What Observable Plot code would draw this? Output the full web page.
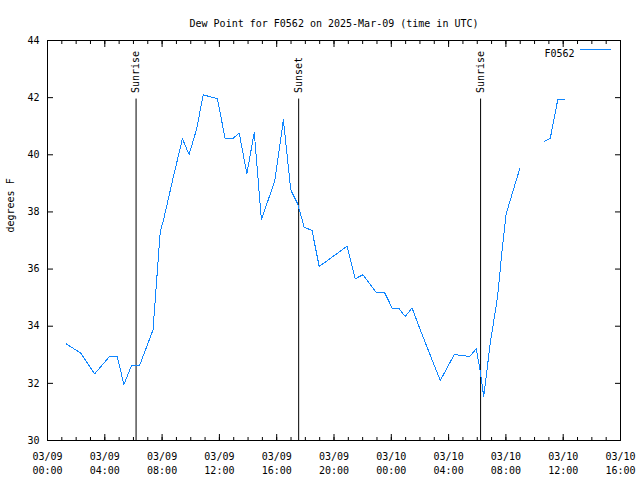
<!DOCTYPE html>
<html><head><meta charset="utf-8">
<script src="https://cdn.jsdelivr.net/npm/d3@7"></script>
<script src="https://cdn.jsdelivr.net/npm/@observablehq/plot@0.6"></script>
<style>body{margin:0;background:#fff}</style>
</head><body><div id="chart"></div>
<script>
const title = "Dew Point for F0562 on 2025-Mar-09 (time in UTC)";
const yLabel = "degrees F";
const seriesName = "F0562";

const times = [
  "2025-03-09T01:19Z","2025-03-09T02:19Z","2025-03-09T03:17Z","2025-03-09T04:20Z","2025-03-09T04:52Z",
  "2025-03-09T05:20Z","2025-03-09T05:51Z","2025-03-09T06:25Z","2025-03-09T07:22Z","2025-03-09T07:52Z",
  "2025-03-09T08:07Z","2025-03-09T08:47Z","2025-03-09T09:25Z","2025-03-09T09:53Z","2025-03-09T10:25Z",
  "2025-03-09T10:52Z","2025-03-09T11:52Z","2025-03-09T12:24Z","2025-03-09T12:55Z","2025-03-09T13:23Z",
  "2025-03-09T13:55Z","2025-03-09T14:26Z","2025-03-09T14:56Z","2025-03-09T15:52Z","2025-03-09T16:28Z",
  "2025-03-09T16:59Z","2025-03-09T17:28Z","2025-03-09T17:55Z","2025-03-09T18:28Z","2025-03-09T18:58Z",
  "2025-03-09T20:55Z","2025-03-09T21:29Z","2025-03-09T22:01Z","2025-03-09T22:56Z","2025-03-09T23:31Z",
  "2025-03-10T00:04Z","2025-03-10T00:31Z","2025-03-10T00:58Z","2025-03-10T01:27Z","2025-03-10T02:00Z",
  "2025-03-10T03:25Z","2025-03-10T04:24Z","2025-03-10T04:53Z","2025-03-10T05:28Z","2025-03-10T05:56Z",
  "2025-03-10T06:13Z","2025-03-10T06:27Z","2025-03-10T06:55Z","2025-03-10T07:25Z","2025-03-10T07:44Z",
  "2025-03-10T08:01Z","2025-03-10T08:26Z","2025-03-10T08:58Z","2025-03-10T09:50Z","2025-03-10T10:41Z",
  "2025-03-10T11:06Z","2025-03-10T11:37Z","2025-03-10T12:06Z"
];
const dewPoint = [
  33.38, 33.06, 32.33, 32.94, 32.94,
  31.96, 32.61, 32.61, 33.87, 37.29,
  37.76, 39.22, 40.56, 40.01, 40.91,
  42.10, 41.96, 40.56, 40.56, 40.76,
  39.33, 40.79, 37.72, 39.10, 41.22,
  38.77, 38.28, 37.47, 37.35, 36.09,
  36.80, 35.66, 35.80, 35.19, 35.19,
  34.63, 34.63, 34.34, 34.64, 33.90,
  32.10, 33.01, 32.98, 32.94, 33.21,
  32.39, 31.54, 33.44, 35.02, 36.65,
  37.93, 38.63, 39.51, null, 40.47,
  40.58, 41.92, 41.92
];

const eventNames = ["Sunrise", "Sunset", "Sunrise"];
const eventTimes = ["2025-03-09T06:11Z", "2025-03-09T17:32Z", "2025-03-10T06:14Z"];

const yTicks = [30, 32, 34, 36, 38, 40, 42, 44];
const xTickTimes = [
  "2025-03-09T00:00Z","2025-03-09T04:00Z","2025-03-09T08:00Z","2025-03-09T12:00Z",
  "2025-03-09T16:00Z","2025-03-09T20:00Z","2025-03-10T00:00Z","2025-03-10T04:00Z",
  "2025-03-10T08:00Z","2025-03-10T12:00Z","2025-03-10T16:00Z"
];

const data = times.map((t, i) => ({time: new Date(t), value: dewPoint[i]}));
const events = eventNames.map((n, i) => ({name: n, time: new Date(eventTimes[i])}));
const xTicks = xTickTimes.map(t => new Date(t));
const xStart = xTicks[0], xEnd = xTicks[xTicks.length - 1];
const minorTicks = d3.utcHour.range(xStart, new Date(+xEnd + 1));

const lineColor = "#0f86ff";
const font = "DejaVu Sans Mono, Liberation Mono, monospace";
const fmt = d3.utcFormat("%m/%d\n%H:%M");

const chart = Plot.plot({
  width: 640,
  height: 480,
  marginLeft: 47,
  marginRight: 20,
  marginTop: 40,
  marginBottom: 40,
  style: {fontFamily: font, fontSize: "10px", background: "#fff", color: "#000"},
  x: {type: "utc", domain: [xStart, xEnd]},
  y: {domain: [30, 44]},
  marks: [
    Plot.axisX({ticks: xTicks, tickSize: 0, tickPadding: 9, tickFormat: fmt, lineHeight: 1.45, label: null, fontSize: 10}),
    Plot.axisX({ticks: xTicks, tickSize: -6, fill: "none", label: null}),
    Plot.axisX({ticks: minorTicks, tickSize: -3, fill: "none", label: null}),
    Plot.axisX({anchor: "top", ticks: xTicks, tickSize: -6, fill: "none", label: null}),
    Plot.axisX({anchor: "top", ticks: minorTicks, tickSize: -3, fill: "none", label: null}),
    Plot.axisY({ticks: yTicks, tickSize: 0, tickPadding: 8, label: null, fontSize: 10}),
    Plot.axisY({ticks: yTicks, tickSize: -6, fill: "none", label: null}),
    Plot.axisY({anchor: "right", ticks: yTicks, tickSize: -6, fill: "none", label: null}),
    Plot.frame({stroke: "#000"}),
    Plot.ruleX(events, {x: "time", y1: 30, y2: 41.95, stroke: "#000", strokeWidth: 1}),
    Plot.text(events, {x: "time", y: 41.95, text: "name", rotate: -90, textAnchor: "start", lineAnchor: "middle", dy: -6, fontSize: 10, fill: "#000"}),
    Plot.line(data, {x: "time", y: "value", stroke: lineColor, strokeWidth: 1, shapeRendering: "crispEdges"}),
    Plot.text([title], {frameAnchor: "top", dy: -21, fontSize: 10, fill: "#000"}),
    Plot.text([yLabel], {frameAnchor: "left", dx: -37, dy: -8, rotate: -90, fontSize: 10, fill: "#000"}),
    Plot.text([seriesName], {frameAnchor: "top-right", dx: -46, dy: 9, textAnchor: "end", fontSize: 10, fill: "#000"})
  ]
});

// legend sample line
d3.select(chart).append("line")
  .attr("x1", 640 - 20 - 40).attr("x2", 640 - 20 - 9)
  .attr("y1", 40 + 9.5).attr("y2", 40 + 9.5)
  .attr("stroke", lineColor).attr("stroke-width", 1);

document.getElementById("chart").append(chart);
</script>
</body></html>
